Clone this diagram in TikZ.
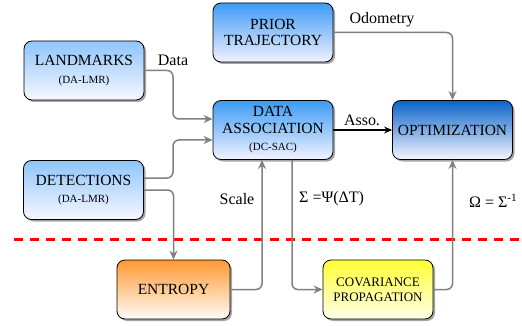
\documentclass[tikz,border=0pt]{standalone}
\usepackage{fontspec}
\setmainfont{LiberationSerif-Regular.ttf}
\usetikzlibrary{shadows,arrows.meta}
\definecolor{lblue}{HTML}{8EC5FB}
\definecolor{mblue}{HTML}{3D9BF5}
\definecolor{dblue}{HTML}{0A64C8}
\definecolor{orng}{HTML}{FF9933}
\definecolor{yell}{HTML}{FFFF33}
\begin{document}
\begin{tikzpicture}[x=1pt,y=-1pt,
 box/.style={draw=black, line width=0.8pt, rounded corners=8pt, minimum width=120pt, minimum height=59pt,
   align=center, inner sep=0pt, font=\rmfamily\fontsize{15.5}{16.5}\selectfont,
   drop shadow={shadow xshift=2pt, shadow yshift=-2pt, fill=black!35, opacity=1}},
 conn/.style={draw=black!50, line width=1.5pt, rounded corners=6pt, -{Stealth[length=9pt,width=8pt]}},
 lbl/.style={font=\rmfamily\fontsize{16}{18}\selectfont, inner sep=0pt}
]
\useasboundingbox (0,0) rectangle (522,326);

\node[box, top color=lblue, bottom color=blue!3] (lm) at (84,70.5) {LANDMARKS\\[1pt]{\fontsize{11}{12}\selectfont (DA-LMR)}};
\node[box, top color=lblue, bottom color=blue!3] (det) at (83.5,190) {DETECTIONS\\[1pt]{\fontsize{11}{12}\selectfont (DA-LMR)}};
\node[box, top color=mblue, bottom color=blue!5] (pt) at (273,32.5) {PRIOR\\TRAJECTORY};
\node[box, top color=mblue, bottom color=blue!5] (da) at (273,130) {DATA\\ASSOCIATION\\[1pt]{\fontsize{11}{12}\selectfont (DC-SAC)}};
\node[box, top color=dblue, bottom color=blue!4] (opt) at (452.5,130) {OPTIMIZATION};
\node[box, minimum width=113pt, top color=orng, bottom color=orange!3] (ent) at (173.5,289.5) {ENTROPY};
\node[box, minimum width=110pt, top color=yell, bottom color=yellow!8, font=\rmfamily\fontsize{13}{15}\selectfont] (cov) at (378,289.5) {COVARIANCE\\PROPAGATION};

\draw[red, line width=3pt, dash pattern=on 9pt off 7pt] (14,239) -- (522,239);

\draw[conn] (lm.east) -| (173,119) -- (da.west |- 0,119);
\draw[conn] (det.east |- 0,178) -| (173,140) -- (da.west |- 0,140);
\draw[conn] (det.east) -| (ent.north);
\draw[conn] (ent.east) -| (da.south -| 262,0);
\draw[conn] (da.south -| 292,0) |- (cov.west);
\draw[conn] (cov.east) -| (opt.south);
\draw[conn] (pt.east) -| (opt.north);
\draw[line width=1.2pt, -{Stealth[length=8pt,width=7pt]}] (da) -- (opt);

\node[lbl] (ldata) at (173,60) {Data};
\node[lbl] (lodo) at (382,20) {Odometry};
\node[lbl] (lasso) at (362,120) {Asso.};
\node[lbl] (lscale) at (237,199) {Scale};
\node[lbl, anchor=west] (lsig) at (299,199) {Σ =Ψ(ΔT)};
\node[lbl, anchor=west] (lom) at (469,201) {Ω = Σ\textsuperscript{-1}};
\end{tikzpicture}
\end{document}
